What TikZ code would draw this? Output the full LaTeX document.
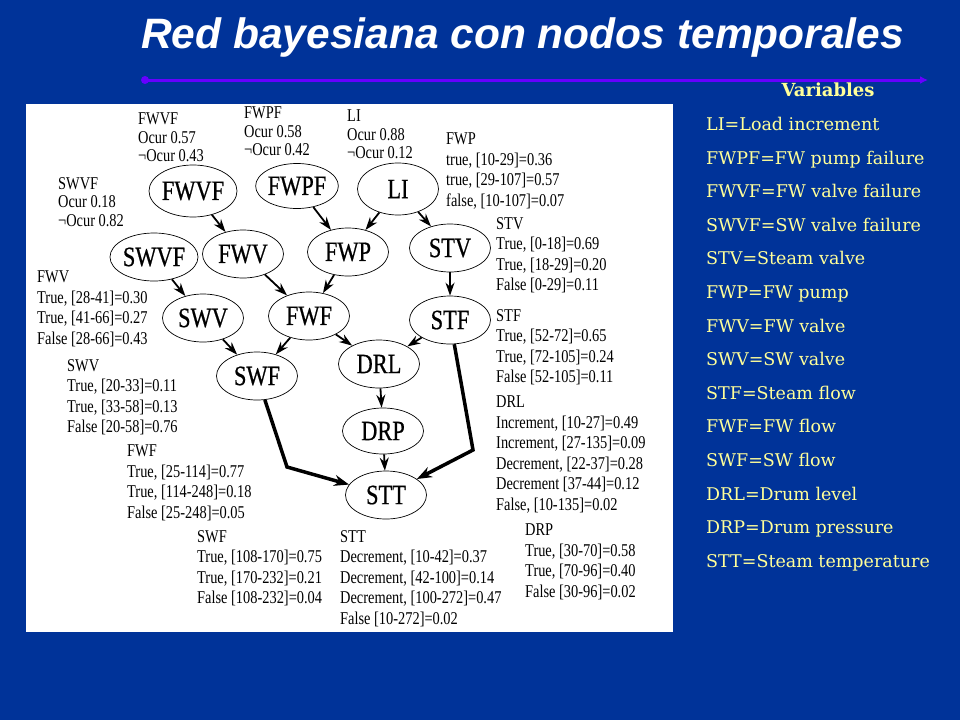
\documentclass[tikz,border=0pt]{standalone}
\usepackage{fontspec}
\usetikzlibrary{shapes.geometric,arrows.meta}
\newfontfamily\tnr[FakeStretch=0.8]{Liberation Serif}
\newfontfamily\tnrb[FakeStretch=0.8,FakeBold=0.6]{Liberation Serif}
\newfontfamily\dvs{DejaVu Serif}
\newfontfamily\hds{Liberation Sans}
\definecolor{slide}{RGB}{0,51,153}
\definecolor{rulecol}{RGB}{102,0,255}
\definecolor{pale}{RGB}{255,255,153}
\begin{document}
\begin{tikzpicture}[x=1pt,y=-1pt,
        var/.style={draw,ellipse,line width=0.7pt,inner sep=0pt,minimum width=81pt,minimum height=48pt,font=\tnrb\fontsize{28}{28}\selectfont},
        cpt/.style={anchor=north west,align=left,inner sep=0pt,font=\tnr\fontsize{18}{20.5}\selectfont},
        ocur/.style={cpt,font=\tnr\fontsize{18}{18.5}\selectfont},
        link/.style={line width=1.8pt,-{Stealth[length=13pt,width=9pt]}},
        heavy/.style={line width=3.5pt,-{Stealth[length=15pt,width=11pt]}}]
    \fill[slide] (0,0) rectangle (960,720);
    \useasboundingbox (0,0) rectangle (960,720);
    %% title and rule
    \node[anchor=base west,inner sep=0pt,text=white,font=\hds\bfseries\itshape\fontsize{42.5}{42.5}\selectfont] (title) at (141,48) {Red bayesiana con nodos temporales};
    \coordinate (r0) at (145,80);
    \coordinate (r1) at (928,80);
    \fill[rulecol] (r0) circle (4pt);
    \draw[rulecol,line width=3pt,-{Latex[length=8pt,width=8pt]}] (r0) -- (r1);
    %% variables list
    \node[text=pale,font=\dvs\bfseries\fontsize{18}{18}\selectfont] (vhead) at (828,90) {Variables};
    \node[anchor=north west,align=left,inner sep=0pt,text=pale,font=\dvs\fontsize{17.5}{33.6}\selectfont] (vlist) at (706,117) {LI=Load increment\\FWPF=FW pump failure\\FWVF=FW valve failure\\SWVF=SW valve failure\\STV=Steam valve\\FWP=FW pump\\FWV=FW valve\\SWV=SW valve\\STF=Steam flow\\FWF=FW flow\\SWF=SW flow\\DRL=Drum level\\DRP=Drum pressure\\STT=Steam temperature};
    %% network panel
    \fill[white] (26,104) rectangle (673,632);
    \node[var,minimum height=52pt] (FWVF) at (193,191) {FWVF};
    \node[var,minimum height=45pt] (FWPF) at (297,186) {FWPF};
    \node[var,minimum height=52pt] (LI) at (398,189) {LI};
    \node[var] (SWVF) at (154,257) {SWVF};
    \node[var] (FWV) at (243,254) {FWV};
    \node[var] (FWP) at (348,252) {FWP};
    \node[var] (STV) at (450,248) {STV};
    \node[var] (SWV) at (203,318) {SWV};
    \node[var] (FWF) at (309,316) {FWF};
    \node[var] (STF) at (450,320) {STF};
    \node[var] (SWF) at (257,376) {SWF};
    \node[var] (DRL) at (379,364) {DRL};
    \node[var,minimum height=46pt] (DRP) at (383,431) {DRP};
    \node[var] (STT) at (386,495) {STT};
    %% probability tables
    \node[ocur] (cFWVF) at (138,113) {FWVF\\Ocur 0.57\\¬Ocur 0.43};
    \node[ocur] (cFWPF) at (244,107) {FWPF\\Ocur 0.58\\¬Ocur 0.42};
    \node[ocur] (cLI) at (347,110) {LI\\Ocur 0.88\\¬Ocur 0.12};
    \node[ocur] (cSWVF) at (58,177) {SWVF\\Ocur 0.18\\¬Ocur 0.82};
    \node[cpt] (cFWP) at (446,133) {FWP\\true, [10-29]=0.36\\true, [29-107]=0.57\\false, [10-107]=0.07};
    \node[cpt] (cSTV) at (496,217) {STV\\True, [0-18]=0.69\\True, [18-29]=0.20\\False [0-29]=0.11};
    \node[cpt] (cFWV) at (37,271) {FWV\\True, [28-41]=0.30\\True, [41-66]=0.27\\False [28-66]=0.43};
    \node[cpt] (cSTF) at (496,309) {STF\\True, [52-72]=0.65\\True, [72-105]=0.24\\False [52-105]=0.11};
    \node[cpt] (cSWV) at (67,359) {SWV\\True, [20-33]=0.11\\True, [33-58]=0.13\\False [20-58]=0.76};
    \node[cpt] (cDRL) at (496,396) {DRL\\Increment, [10-27]=0.49\\Increment, [27-135]=0.09\\Decrement, [22-37]=0.28\\Decrement [37-44]=0.12\\False, [10-135]=0.02};
    \node[cpt] (cFWF) at (127,445) {FWF\\True, [25-114]=0.77\\True, [114-248]=0.18\\False [25-248]=0.05};
    \node[cpt] (cSWF) at (197,530) {SWF\\True, [108-170]=0.75\\True, [170-232]=0.21\\False [108-232]=0.04};
    \node[cpt] (cSTT) at (340,530) {STT\\Decrement, [10-42]=0.37\\Decrement, [42-100]=0.14\\Decrement, [100-272]=0.47\\False [10-272]=0.02};
    \node[cpt] (cDRP) at (525,524) {DRP\\True, [30-70]=0.58\\True, [70-96]=0.40\\False [30-96]=0.02};
    %% arcs
    \draw[link] (FWVF) -- (FWV);
    \draw[link] (FWPF) -- (FWP);
    \draw[link] (LI) -- (FWP);
    \draw[link] (LI) -- (STV);
    \draw[link] (SWVF) -- (SWV);
    \draw[link] (FWV) -- (FWF);
    \draw[link] (FWP) -- (FWF);
    \draw[link] (STV) -- (STF);
    \draw[link] (SWV) -- (SWF);
    \draw[link] (FWF) -- (SWF);
    \draw[link] (FWF) -- (DRL);
    \draw[link] (STF) -- (DRL);
    \draw[link] (DRL) -- (DRP);
    \draw[link] (DRP) -- (STT);
    \coordinate (b1) at (287,467);
    \coordinate (b2) at (473,450);
    \draw[heavy] (SWF) -- (b1) -- (STT);
    \draw[heavy] (STF) -- (b2) -- (STT);
\end{tikzpicture}
\end{document}
